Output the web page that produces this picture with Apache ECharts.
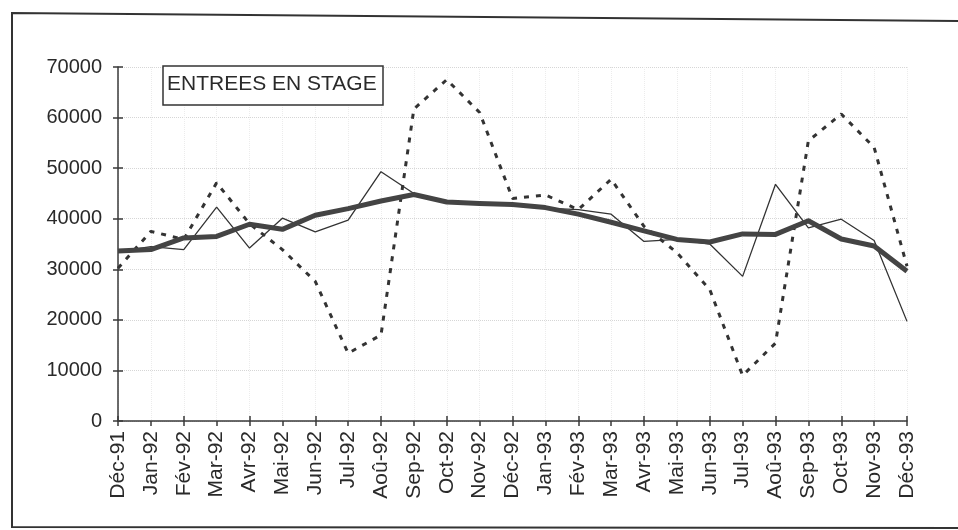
<!DOCTYPE html>
<html>
<head>
<meta charset="utf-8">
<script src="https://cdn.jsdelivr.net/npm/echarts@6/dist/echarts.min.js"></script>
<style>
  html, body { margin: 0; padding: 0; background: #fff; }
  #chart { width: 958px; height: 530px; }
</style>
</head>
<body>
<div id="chart"></div>
<script>
  // mois, de Déc-91 à Déc-93
  let mois = ['Déc-91', 'Jan-92', 'Fév-92', 'Mar-92', 'Avr-92', 'Mai-92', 'Jun-92', 'Jul-92', 'Aoû-92',
    'Sep-92', 'Oct-92', 'Nov-92', 'Déc-92', 'Jan-93', 'Fév-93', 'Mar-93', 'Avr-93', 'Mai-93', 'Jun-93',
    'Jul-93', 'Aoû-93', 'Sep-93', 'Oct-93', 'Nov-93', 'Déc-93']

  // trait fin
  let corrigees = [33500, 34500, 33900, 42300, 34200, 40100, 37400, 39700, 49300, 45000, 43300, 42900,
    42700, 42100, 41800, 40900, 35500, 35900, 35000, 28600, 46800, 38200, 39900, 35700, 19700]

  // pointillés
  let brutes = [30200, 37500, 35900, 47100, 39000, 33900, 27600, 13400, 17000, 61700, 67500, 61000,
    44000, 44700, 41800, 47800, 38500, 33300, 26000, 9000, 15400, 55400, 60700, 54100, 30600]

  // trait épais
  let tendance = [33600, 33900, 36200, 36500, 38900, 37900, 40700, 42000, 43500, 44800, 43300, 43000,
    42800, 42200, 40900, 39300, 37600, 35900, 35400, 37000, 36900, 39600, 36000, 34600, 29600]

  let yTicks = [0, 70000, 10000] // min, max, pas

  let chart = echarts.init(document.getElementById('chart'))
  let police = 'Liberation Sans, Arial, sans-serif'

  chart.setOption({
    animation: false,
    grid: {left: 118, right: 51, top: 67, bottom: 109},
    graphic: [
      {
        type: 'polyline',
        shape: {points: [[960, 21], [12, 13], [12, 527], [960, 528]]},
        style: {stroke: '#333', lineWidth: 2, fill: null},
        silent: true
      },
      {
        type: 'rect',
        shape: {x: 163, y: 66, width: 220, height: 39},
        style: {stroke: '#333', lineWidth: 1.5, fill: '#fff'},
        z: 10
      },
      {
        type: 'text',
        left: 167, top: 74,
        style: {text: 'ENTREES EN STAGE', font: '21px ' + police, fill: '#2a2a2a'},
        z: 11
      }
    ],
    xAxis: [
      {
        type: 'category',
        data: mois,
        boundaryGap: false,
        axisLine: {lineStyle: {color: '#3a3a3a', width: 1.5}},
        axisTick: {show: true, length: 5, alignWithLabel: true, lineStyle: {color: '#3a3a3a', width: 1.5}},
        axisLabel: {rotate: 90, margin: 10, fontSize: 21, fontFamily: police, color: '#2a2a2a', interval: 0},
        splitLine: {show: true, lineStyle: {color: '#ececec', type: 'dotted'}}
      },
      {
        type: 'category',
        data: mois,
        boundaryGap: false,
        position: 'bottom',
        axisLine: {show: false},
        axisTick: {show: true, inside: true, length: 5, lineStyle: {color: '#3a3a3a', width: 1.5}},
        axisLabel: {show: false},
        splitLine: {show: false}
      }
    ],
    yAxis: [
      {
        type: 'value',
        min: yTicks[0], max: yTicks[1], interval: yTicks[2],
        axisLine: {show: true, lineStyle: {color: '#3a3a3a', width: 1.5}},
        axisTick: {show: true, length: 5, lineStyle: {color: '#3a3a3a', width: 1.5}},
        axisLabel: {
          margin: 16, fontSize: 20, fontFamily: police, color: '#2a2a2a',
          formatter: function (v) { return String(v) }
        },
        splitLine: {show: true, lineStyle: {color: '#d6d6d6', type: 'dotted'}}
      },
      {
        type: 'value',
        position: 'left',
        min: yTicks[0], max: yTicks[1], interval: yTicks[2],
        axisLine: {show: false},
        axisTick: {show: true, inside: true, length: 5, lineStyle: {color: '#3a3a3a', width: 1.5}},
        axisLabel: {show: false},
        splitLine: {show: false}
      }
    ],
    series: [
      {
        name: 'Données brutes',
        type: 'line',
        data: brutes,
        symbol: 'none',
        lineStyle: {color: '#333', width: 3, type: [5, 7], cap: 'butt'},
        z: 3
      },
      {
        name: 'Données corrigées',
        type: 'line',
        data: corrigees,
        symbol: 'none',
        lineStyle: {color: '#333', width: 1.3},
        z: 4
      },
      {
        name: 'Tendance',
        type: 'line',
        data: tendance,
        symbol: 'none',
        lineStyle: {color: '#444', width: 5, join: 'round'},
        z: 5
      }
    ]
  })
</script>
</body>
</html>
